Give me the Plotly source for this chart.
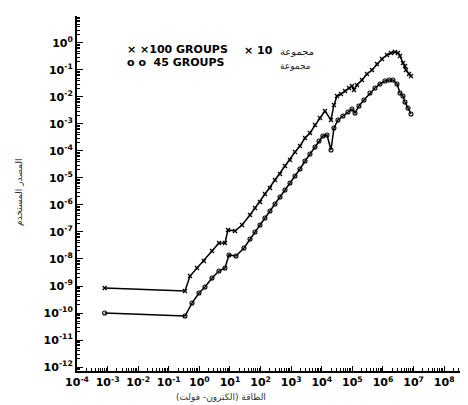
import plotly.graph_objects as go

# ---- data (energy in eV, flux arbitrary units) ----
energy_100 = [8e-4, 0.338, 0.493, 0.835, 1.41, 2.58, 4.37, 6.87, 8.61, 14.6, 24.7, 45.1,
              65.6, 95.5, 139, 203, 296, 431, 627, 914, 1330, 1940, 2830, 4110, 6000, 8730,
              1.27e4, 2.0e4, 2.5e4, 3.14e4, 4.24e4, 5.73e4, 7.74e4, 9.7e4, 1.13e5, 1.41e5,
              2.06e5, 3.0e5, 4.37e5, 6.37e5, 9.27e5, 1.35e6, 1.83e6, 2.47e6, 3.09e6, 3.6e6,
              4.5e6, 5.24e6, 5.65e6, 7.08e6, 8.22e6]
flux_100 = [8.43e-10, 6.53e-10, 2.34e-9, 4.64e-9, 8.43e-9, 1.98e-8, 3.92e-8, 3.92e-8, 1.19e-7,
            1.09e-7, 1.82e-7, 4.26e-7, 7.74e-7, 1.29e-6, 2.55e-6, 4.26e-6, 8.43e-6, 1.41e-5,
            2.78e-5, 4.64e-5, 9.18e-5, 1.53e-4, 3.03e-4, 4.64e-4, 9.18e-4, 1.67e-3, 3.03e-3,
            1.41e-3, 5.06e-3, 1.09e-2, 1.29e-2, 1.67e-2, 2.15e-2, 2.55e-2, 1.82e-2, 2.78e-2,
            4.26e-2, 7.11e-2, 0.100, 0.167, 0.255, 0.359, 0.426, 0.464, 0.426, 0.330, 0.182,
            0.141, 0.100, 0.0711, 0.0600]

energy_45 = [8e-4, 0.338, 0.573, 0.970, 1.52, 2.58, 4.37, 6.87, 9.27, 15.7, 28.7, 45.1, 65.6,
             95.5, 139, 203, 296, 431, 627, 914, 1330, 1940, 2830, 4110, 6000, 8100, 1.09e4,
             1.48e4, 2.0e4, 2.5e4, 3.38e4, 4.93e4, 7.18e4, 9.7e4, 1.22e5, 1.64e5, 2.39e5,
             3.76e5, 5.48e5, 7.98e5, 1.16e6, 1.57e6, 2.12e6, 2.87e6, 3.6e6, 4.5e6, 5.24e6,
             6.57e6, 8.22e6]
flux_45 = [1.0e-10, 7.74e-11, 2.34e-10, 5.51e-10, 9.18e-10, 1.98e-9, 3.59e-9, 4.64e-9, 1.41e-8,
           1.29e-8, 2.55e-8, 5.51e-8, 1.0e-7, 1.82e-7, 3.30e-7, 6.0e-7, 1.09e-6, 1.98e-6,
           3.59e-6, 6.53e-6, 1.19e-5, 2.15e-5, 4.26e-5, 7.74e-5, 1.41e-4, 2.34e-4, 3.59e-4,
           3.92e-4, 1.09e-4, 7.11e-4, 1.41e-3, 1.98e-3, 2.78e-3, 3.59e-3, 2.55e-3, 4.64e-3,
           7.74e-3, 1.41e-2, 2.15e-2, 3.03e-2, 3.92e-2, 4.26e-2, 4.26e-2, 3.03e-2, 1.41e-2,
           1.09e-2, 6.53e-3, 3.92e-3, 2.34e-3]

x_tick_exponents = [-4, -3, -2, -1, 0, 1, 2, 3, 4, 5, 6, 7, 8]
y_tick_exponents = [0, -1, -2, -3, -4, -5, -6, -7, -8, -9, -10, -11, -12]

legend_100 = "× ×100 GROUPS"
legend_45 = "o o  45 GROUPS"
legend_x10 = "× 10"
legend_ar = "مجموعة"
x_title = "الطاقة (الكترون- فولت)"
y_title = "المصدر المستخدم"

# ---- geometry helpers (pixel -> paper) ----
W, H = 468, 405
L, R, T, B = 69, 0, 8, 42
def px(xp):
    return (xp - L) / (W - L - R)
def py(yp):
    return (H - B - yp) / (H - T - B)

def lab(e):
    return "10<sup>%d</sup>" % e

def minors(lo, hi):
    out = []
    for d in range(lo, hi):
        for k in range(2, 10):
            out.append(k * 10.0 ** d)
    return out

fig = go.Figure()
fig.add_trace(go.Scatter(
    x=energy_100, y=flux_100, mode="lines+markers",
    line=dict(color="black", width=1.5),
    marker=dict(symbol="x-thin", size=4, color="black", line=dict(color="black", width=1.3)),
))
fig.add_trace(go.Scatter(
    x=energy_45, y=flux_45, mode="lines+markers",
    line=dict(color="black", width=1.5),
    marker=dict(symbol="circle-open", size=4, color="black", line=dict(color="black", width=1.1)),
))

tickfont = dict(family="DejaVu Sans", size=11, color="black", weight="bold")

fig.update_layout(
    width=W, height=H,
    margin=dict(l=L, r=R, t=T, b=B, pad=0),
    paper_bgcolor="white", plot_bgcolor="white",
    showlegend=False,
    xaxis=dict(
        type="log", range=[-4, 9.04],
        tickmode="array", tickvals=[10.0 ** e for e in x_tick_exponents],
        ticktext=[lab(e) for e in x_tick_exponents],
        ticks="inside", ticklen=5, tickwidth=1.2, tickcolor="black",
        showline=True, linecolor="black", linewidth=2,
        showgrid=False, zeroline=False, tickfont=tickfont,
        minor=dict(ticks="inside", ticklen=3, tickwidth=1, tickcolor="black",
                   tickmode="array", tickvals=minors(-4, 9), showgrid=False),
    ),
    yaxis=dict(
        type="log", range=[-12.148, 0.999],
        tickmode="array", tickvals=[10.0 ** e for e in y_tick_exponents],
        ticktext=[lab(e) for e in y_tick_exponents],
        ticks="inside", ticklen=6, tickwidth=1.2, tickcolor="black",
        showline=True, linecolor="black", linewidth=2,
        showgrid=False, zeroline=False, tickfont=tickfont,
        minor=dict(ticks="inside", ticklen=3, tickwidth=1, tickcolor="black",
                   tickmode="array", tickvals=minors(-13, 1), showgrid=False),
    ),
)

ann = []
bold_font = dict(family="DejaVu Sans", size=11, color="black", weight="bold")
ann.append(dict(text=legend_100, x=px(117), y=py(42), xanchor="left", yanchor="middle",
                font=bold_font))
ann.append(dict(text=legend_45, x=px(117), y=py(54), xanchor="left", yanchor="middle",
                font=bold_font))
ann.append(dict(text=legend_x10, x=px(234), y=py(43), xanchor="left", yanchor="middle",
                font=bold_font))
ann.append(dict(text=legend_ar, x=px(270), y=py(44), xanchor="left", yanchor="middle",
                font=dict(family="DejaVu Sans", size=10, color="#222")))
ann.append(dict(text=legend_ar, x=px(270), y=py(58), xanchor="left", yanchor="middle",
                font=dict(family="DejaVu Sans", size=9, color="#222")))
ann.append(dict(text=x_title, x=px(213), y=py(389), xanchor="center", yanchor="middle",
                font=dict(family="DejaVu Sans", size=9, color="#333")))
ann.append(dict(text=y_title, x=px(11), y=py(185), xanchor="center", yanchor="middle",
                textangle=-90, font=dict(family="DejaVu Sans", size=9, color="#333")))
for a in ann:
    a.update(xref="paper", yref="paper", showarrow=False)
fig.update_layout(annotations=ann)

fig.write_html("out.html")
